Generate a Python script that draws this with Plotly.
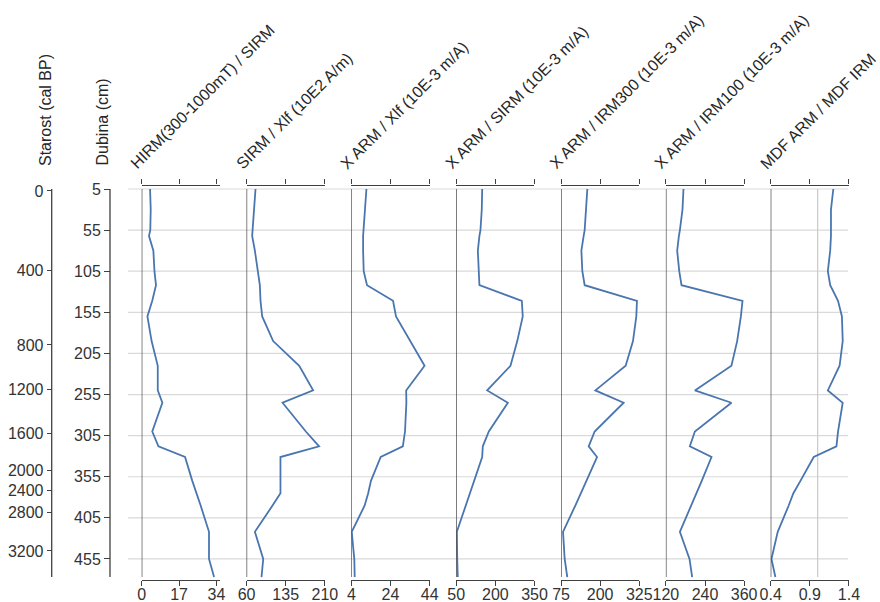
import plotly.graph_objects as go

# ---------------- data ----------------
depth = [5, 30, 55, 62, 80, 105, 122, 141, 160, 190, 220, 250, 265, 300, 318, 331, 360, 375, 390, 422, 455, 477]

hirm_sirm = [3.8, 4.1, 3.9, 3.3, 5.3, 5.8, 6.5, 4.8, 2.6, 4.5, 7.3, 7.3, 9.4, 4.8, 7.6, 19.7, 23.0, 25.0, 26.8, 30.6, 30.6, 32.9]
sirm_xlf = [77.2, 74.7, 71.5, 70.8, 76, 82.3, 85.5, 86.8, 90, 111, 161, 187.6, 129, 173.6, 199, 125, 125, 125, 109.8, 76, 92, 88.7]
xarm_xlf = [11.7, 10.8, 10.1, 10.0, 10.0, 10.3, 12.0, 25.3, 26.8, 34.0, 41.4, 32.0, 32.1, 31.4, 30.3, 19.0, 14.0, 12.6, 10.8, 4.2, 5.5, 5.7]
xarm_sirm = [149.6, 148, 143, 139, 133, 135.5, 139, 301.5, 305, 284, 258, 168.7, 248, 175, 152, 149.6, 118.5, 101, 85, 52.6, 54, 56]
xarm_irm300 = [159, 155.9, 150.5, 147.3, 140, 143, 150.5, 317.5, 315.4, 304.8, 281.4, 184.6, 275, 182.4, 163.3, 190, 156.6, 138.5, 120.7, 81.4, 86.7, 95]
xarm_irm100 = [174, 171, 163, 160, 154.7, 161, 168, 355, 350, 338.6, 321, 209, 321, 209, 193.5, 260, 230, 214, 198, 163, 192.5, 200.7]
mdf_ratio = [1.20, 1.17, 1.17, 1.17, 1.16, 1.13, 1.16, 1.26, 1.31, 1.32, 1.28, 1.13, 1.32, 1.26, 1.24, 0.95, 0.78, 0.69, 0.63, 0.49, 0.41, 0.46]

titles = ["HIRM(300-1000mT) / SIRM", "SIRM / Xlf (10E2 A/m)", "X ARM / Xlf (10E-3 m/A)",
          "X ARM / SIRM (10E-3 m/A)", "X ARM / IRM300 (10E-3 m/A)", "X ARM / IRM100 (10E-3 m/A)",
          "MDF ARM / MDF IRM"]
x_ranges = [[0, 35.6], [60, 210], [4, 44], [50, 350], [75, 325], [120, 360], [0.4, 1.4]]
x_ticks = [[0, 17, 34], [60, 135, 210], [4, 24, 44], [50, 200, 350], [75, 200, 325], [120, 240, 360], [0.4, 0.9, 1.4]]
x_ticktext = [["0", "17", "34"], ["60", "135", "210"], ["4", "24", "44"], ["50", "200", "350"],
              ["75", "200", "325"], ["120", "240", "360"], ["0.4", "0.9", "1.4"]]
mdf_ref_line = 1.0

depth_ticks = [5, 55, 105, 155, 205, 255, 305, 355, 405, 455]
age_ticks = ["0", "400", "800", "1200", "1600", "2000", "2400", "2800", "3200"]
age_tick_depths = [7.4, 104.4, 194.7, 248.6, 302.1, 346.8, 372.0, 398.7, 445.3]

series = [hirm_sirm, sirm_xlf, xarm_xlf, xarm_sirm, xarm_irm300, xarm_irm100, mdf_ratio]

# ---------------- layout geometry ----------------
W, H = 880, 602
def px(x):
    return x / W
def py(y):
    return 1 - y / H

panel_left0 = 141.7
panel_step = 104.83
panel_w = 78.3
y_top_px, y_bot_px = 185.5, 580.0
y_range = [480.6, 0.74]

LINE = "#4a76b0"
AX = "#404040"
GRID = "#d9d9d9"
TXT = "#333333"
FONT = "Liberation Sans, Arial, sans-serif"

fig = go.Figure()
layout = dict(
    width=W, height=H, margin=dict(l=0, r=0, t=0, b=0, autoexpand=False),
    paper_bgcolor="white", plot_bgcolor="rgba(0,0,0,0)",
    showlegend=False, font=dict(family=FONT, size=16, color=TXT),
)

shapes = []
annotations = []

for d in depth_ticks:
    shapes.append(dict(type="line", xref="paper", yref="y", x0=px(128), x1=px(848), y0=d, y1=d,
                       line=dict(color=GRID, width=1.2), layer="below"))

for i, (vals, rng, tv, tt, title) in enumerate(zip(series, x_ranges, x_ticks, x_ticktext, titles)):
    xa = "x" if i == 0 else f"x{i+1}"
    xkey = "xaxis" if i == 0 else f"xaxis{i+1}"
    left = panel_left0 + i * panel_step
    fig.add_trace(go.Scatter(x=vals, y=depth, mode="lines", xaxis=xa, yaxis="y",
                             line=dict(color=LINE, width=1.8), hoverinfo="skip"))
    layout[xkey] = dict(
        domain=[px(left), px(left + panel_w)], range=rng, anchor="y",
        tickvals=tv, ticktext=tt, ticks="outside", ticklen=5, tickwidth=1.3, tickcolor=AX,
        showline=True, linecolor=AX, linewidth=1.3, mirror="ticks", automargin=False,
        ticklabelstandoff=-5,
        showgrid=False, zeroline=False, tickfont=dict(size=16, color=TXT, family=FONT),
    )
    shapes.append(dict(type="line", xref=xa, yref="y", x0=rng[0], x1=rng[0], y0=depth[0], y1=depth[-1],
                       line=dict(color=AX, width=1.3)))
    annotations.append(dict(text=title, xref="paper", yref="paper", x=px(left - 17), y=py(175),
                            xanchor="left", yanchor="bottom", textangle=-45, showarrow=False,
                            font=dict(size=16, color="#262626", family=FONT)))

shapes.append(dict(type="line", xref="x7", yref="y", x0=mdf_ref_line, x1=mdf_ref_line, y0=depth[0], y1=depth[-1],
                   line=dict(color="#c8c8c8", width=1.2), layer="below"))

for xp in (110, 51.7):
    shapes.append(dict(type="line", xref="paper", yref="y", x0=px(xp), x1=px(xp), y0=depth[0], y1=depth[-1],
                       line=dict(color=AX, width=1.3)))

layout["yaxis"] = dict(domain=[py(y_bot_px), py(y_top_px)], range=y_range, visible=False,
                       showgrid=False, zeroline=False)
layout["yaxis2"] = dict(overlaying="y", anchor="free", position=px(110), side="left", range=y_range,
                        tickvals=depth_ticks, ticktext=[str(d) for d in depth_ticks],
                        ticks="outside", ticklen=6, tickwidth=1.3, tickcolor=AX, showline=False,
                        showgrid=False, zeroline=False, automargin=False,
                        tickfont=dict(size=16, color=TXT, family=FONT))
layout["yaxis3"] = dict(overlaying="y", anchor="free", position=px(51.7), side="left", range=y_range,
                        tickvals=age_tick_depths, ticktext=age_ticks,
                        ticks="outside", ticklen=5, tickwidth=1.3, tickcolor=AX, showline=False,
                        showgrid=False, zeroline=False, automargin=False,
                        tickfont=dict(size=16, color=TXT, family=FONT))
fig.add_trace(go.Scatter(x=[None], y=[None], xaxis="x", yaxis="y2", hoverinfo="skip", showlegend=False))
fig.add_trace(go.Scatter(x=[None], y=[None], xaxis="x", yaxis="y3", hoverinfo="skip", showlegend=False))

annotations.append(dict(text="Starost (cal BP)", xref="paper", yref="paper", x=px(45), y=py(168),
                        xanchor="center", yanchor="bottom", textangle=-90, showarrow=False,
                        font=dict(size=16, color="#262626", family=FONT)))
annotations.append(dict(text="Dubina (cm)", xref="paper", yref="paper", x=px(102), y=py(168),
                        xanchor="center", yanchor="bottom", textangle=-90, showarrow=False,
                        font=dict(size=16, color="#262626", family=FONT)))

layout["shapes"] = shapes
layout["annotations"] = annotations
fig.update_layout(**layout)

fig.write_html("out.html", config={"displayModeBar": False},
               post_script="document.body.style.margin='0px';document.body.style.overflow='hidden';"
                           "document.documentElement.style.overflow='hidden';")
